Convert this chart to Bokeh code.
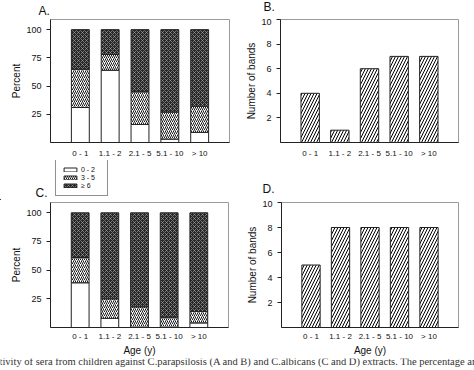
from bokeh.plotting import figure
from bokeh.models import Range1d, FixedTicker, ColumnDataSource, Legend, LegendItem
from bokeh.layouts import column, row
from bokeh.embed import file_html
from bokeh.resources import INLINE
from bokeh.core.properties import value

# ---- data ----
categories = ["0 - 1", "1.1 - 2", "2.1 - 5", "5.1 - 10", "> 10"]
a_low = [31, 64, 16, 3, 9]
a_mid = [34, 14, 29, 24, 23]
a_high = [35, 22, 55, 73, 68]
c_low = [39, 8, 0, 0, 4]
c_mid = [22, 17, 18, 9, 10]
c_high = [39, 75, 82, 91, 86]
b_bands = [4, 1, 6, 7, 7]
d_bands = [5, 8, 8, 8, 8]
legend_labels = ["0 - 2", "3 - 5", "\u2265 6"]
pct_ticks = [25, 50, 75, 100]
band_ticks = [2, 4, 6, 8, 10]
caption = ("tivity of sera from children against C.parapsilosis (A and B) and "
           "C.albicans (C and D) extracts. The percentage and")

FONT = "Liberation Sans"
W = 474
xpos = list(range(1, len(categories) + 1))
overrides = {x: c for x, c in zip(xpos, categories)}

seg_fill = ["white", "white", "#262626"]
seg_hatch = [" ", "/", "x"]
seg_hcolor = ["black", "black", "#b8b8b8"]
seg_hscale = [4, 4, 4]
seg_hweight = [1, 0.9, 0.55]


def make_fig(w, h, left, right, top, bottom, ymax, yticks, ylabel, xlabel=None):
    p = figure(width=w, height=h, output_backend="svg", toolbar_location=None,
               title=None,
               x_range=Range1d(0, len(categories) + 1), y_range=Range1d(0, ymax),
               min_border_left=left, min_border_right=right,
               min_border_top=top, min_border_bottom=bottom)
    p.grid.visible = False
    p.outline_line_color = "#9a9a9a"
    p.outline_line_width = 1
    p.yaxis.ticker = FixedTicker(ticks=yticks)
    p.yaxis.axis_label = ylabel
    p.yaxis.axis_label_text_font = FONT
    p.yaxis.axis_label_text_font_style = "normal"
    p.yaxis.axis_label_text_font_size = "10px"
    p.yaxis.axis_label_text_color = "#111"
    p.yaxis.axis_label_standoff = 1
    p.yaxis.major_label_text_font = FONT
    p.yaxis.major_label_text_font_size = "9px"
    p.yaxis.major_label_text_color = "#111"
    p.yaxis.major_tick_out = 4
    p.yaxis.major_tick_in = 0
    p.yaxis.minor_tick_out = 0
    p.yaxis.minor_tick_in = 0
    p.yaxis.major_label_standoff = 5
    p.yaxis.axis_line_color = "#222"
    p.yaxis.major_tick_line_color = "#222"
    p.xaxis.ticker = FixedTicker(ticks=xpos)
    p.xaxis.major_label_overrides = overrides
    p.xaxis.major_label_text_font = FONT
    p.xaxis.major_label_text_font_size = "8px"
    p.xaxis.major_label_text_color = "#111"
    p.xaxis.major_tick_out = 0
    p.xaxis.major_tick_in = 0
    p.xaxis.minor_tick_out = 0
    p.xaxis.minor_tick_in = 0
    p.xaxis.major_label_standoff = 6
    p.xaxis.axis_line_color = "#222"
    if xlabel:
        p.xaxis.major_label_standoff = 4
        p.xaxis.axis_label = xlabel
        p.xaxis.axis_label_text_font = FONT
        p.xaxis.axis_label_text_font_style = "normal"
        p.xaxis.axis_label_text_font_size = "10px"
        p.xaxis.axis_label_text_color = "#111"
        p.xaxis.axis_label_standoff = 1
    else:
        p.xaxis.axis_label = None
    return p


def strip(h):
    s = figure(width=W, height=h, output_backend="svg", toolbar_location=None,
               title=None,
               x_range=Range1d(0, W), y_range=Range1d(0, h),
               x_axis_type=None, y_axis_type=None,
               min_border=0, min_border_left=0, min_border_right=0,
               min_border_top=0, min_border_bottom=0)
    s.grid.visible = False
    s.outline_line_color = None
    return s


def tag(s, x, y, txt):
    s.text(x=[x], y=[y], text=[txt], text_font=value(FONT), text_font_size="12px",
           text_color="#111", text_baseline="alphabetic")


def stacked(p, low, mid, high):
    src = ColumnDataSource(dict(x=xpos, low=low, mid=mid, high=high))
    p.vbar_stack(["low", "mid", "high"], x="x", source=src, width=0.6,
                 line_color="#222", line_width=1, fill_color=seg_fill,
                 hatch_pattern=seg_hatch, hatch_color=seg_hcolor,
                 hatch_scale=seg_hscale, hatch_weight=seg_hweight)


def bands(p, vals):
    p.vbar(x=xpos, top=vals, width=0.62, fill_color="white", line_color="#222",
           line_width=1, hatch_pattern="/", hatch_color="black", hatch_scale=6,
           hatch_weight=1)


# ---- top strip: panel tags A. / B. ----
top = strip(18)
tag(top, 38, 8, "A.")
tag(top, 263, 12, "B.")

# ---- row 1 ----
pa = make_fig(238, 142, 50, 9, 1, 15, 109, pct_ticks, "Percent")
stacked(pa, a_low, a_mid, a_high)
pb = make_fig(236, 142, 42, 16, 1, 15, 10, band_ticks, "Number of bands")
bands(pb, b_bands)

# ---- middle strip: legend and tags C. / D. ----
mid = strip(40)
items = []
for i, lab in enumerate(legend_labels):
    # swatch-only renderer placed outside the visible range
    r = mid.vbar(x=[-1000], top=[1], width=1, line_color="#222", line_width=1,
                 fill_color=seg_fill[i], hatch_pattern=seg_hatch[i],
                 hatch_color=seg_hcolor[i], hatch_scale=seg_hscale[i],
                 hatch_weight=seg_hweight[i])
    items.append(LegendItem(label=lab, renderers=[r]))
lg = Legend(items=items, location=(55, 4))
lg.border_line_color = "#222"
lg.border_line_width = 1
lg.background_fill_color = "white"
lg.background_fill_alpha = 1
lg.label_text_font = FONT
lg.label_text_font_size = "7px"
lg.label_text_color = "#111"
lg.label_height = 8
lg.label_width = 20
lg.glyph_height = 5
lg.glyph_width = 16
lg.spacing = 0
lg.padding = 6
lg.margin = 0
lg.label_standoff = 3
mid.add_layout(lg)
tag(mid, 35, 8, "C.")
tag(mid, 262, 12, "D.")

# ---- row 2 ----
pc = make_fig(238, 158, 50, 10, 2, 30, 109, pct_ticks, "Percent", "Age (y)")
stacked(pc, c_low, c_mid, c_high)
pd_ = make_fig(236, 158, 43, 16, 2, 30, 10, band_ticks, "Number of bands", "Age (y)")
bands(pd_, d_bands)

# ---- caption strip ----
cap = strip(12)
cap.text(x=[-1], y=[9], text=[caption], text_font=value("Liberation Serif"),
         text_font_size="10.5px", text_color="#333", text_baseline="alphabetic")

layout = column(top, row(pa, pb), mid, row(pc, pd_), cap)
open("out.html", "w").write(file_html(layout, INLINE))
